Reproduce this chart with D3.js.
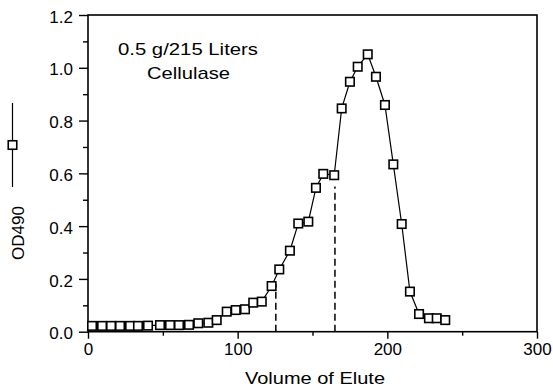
<!DOCTYPE html>
<html><head><meta charset="utf-8">
<script src="https://cdn.jsdelivr.net/npm/d3@7"></script>
<style>
html,body{margin:0;padding:0;background:#fff;}
svg text{font-family:"Liberation Sans",Arial,sans-serif;fill:#000;}
</style></head>
<body>
<svg id="chart" width="553" height="387"></svg>
<script>
// Data
const volume = [2.7, 9.4, 15.4, 21.4, 28.1, 33.4, 40.1, 48.1, 54.8, 60.8,
  67.5, 73.7, 80.4, 86.0, 92.7, 98.7, 104.9, 110.4, 116.1, 122.7,
  127.8, 134.9, 140.5, 147.2, 152.3, 157.2, 164.5, 169.5, 175.0, 180.2,
  186.9, 192.4, 198.4, 204.0, 209.6, 215.1, 221.2, 227.8, 233.0, 238.7];
const od490 = [0.022, 0.022, 0.022, 0.022, 0.022, 0.022, 0.023, 0.025, 0.025, 0.025,
  0.026, 0.032, 0.034, 0.044, 0.076, 0.082, 0.085, 0.110, 0.114, 0.173,
  0.236, 0.307, 0.410, 0.417, 0.545, 0.598, 0.593, 0.846, 0.947, 1.004,
  1.051, 0.966, 0.859, 0.634, 0.408, 0.152, 0.067, 0.051, 0.051, 0.044];
const dashX = [125.5, 165.0];
const dashTop = [0.18, 0.55];
const xMajor = [0, 100, 200, 300];
const xMinor = [50, 150, 250];
const yMajor = [0, 0.2, 0.4, 0.6, 0.8, 1.0, 1.2];
const yMinor = [0.1, 0.3, 0.5, 0.7, 0.9, 1.1];
const annot = ["0.5 g/215 Liters", "Cellulase"];
const xTitle = "Volume of Elute";
const yTitle = "OD490";

const svg = d3.select("#chart");
const L = 88, R = 537, T = 15, B = 331.7;
const x = d3.scaleLinear().domain([0, 300]).range([L, R]);
const y = d3.scaleLinear().domain([0, 1.2]).range([B, T]);

// frame
svg.append("rect").attr("x", L).attr("y", T).attr("width", R - L).attr("height", B - T)
  .attr("fill", "none").attr("stroke", "#000").attr("stroke-width", 1.6);

function styleAxis(g) {
  g.select(".domain").remove();
  g.selectAll(".tick line").attr("stroke", "#000").attr("stroke-width", 1.4);
  g.selectAll("text").attr("font-size", 17).attr("font-family", "'Liberation Sans',Arial,sans-serif").attr("fill", "#000");
}

// x axis
svg.append("g").attr("transform", `translate(0,${B})`)
  .call(d3.axisBottom(x).tickValues(xMajor).tickSize(7).tickPadding(4).tickFormat(d3.format("d")))
  .call(styleAxis);
svg.append("g").attr("transform", `translate(0,${B})`)
  .call(d3.axisBottom(x).tickValues(xMinor).tickSize(4).tickFormat(""))
  .call(styleAxis);

// y axis
svg.append("g").attr("transform", `translate(${L},0)`)
  .call(d3.axisLeft(y).tickValues(yMajor).tickSize(9).tickPadding(6).tickFormat(d3.format(".1f")))
  .call(styleAxis)
  .selectAll("text").attr("dy", "0.42em");
svg.append("g").attr("transform", `translate(${L},0)`)
  .call(d3.axisLeft(y).tickValues(yMinor).tickSize(5).tickFormat(""))
  .call(styleAxis);

// dashed lines
svg.append("g").selectAll("line").data(dashX).join("line")
  .attr("x1", d => x(d)).attr("x2", d => x(d))
  .attr("y1", y(0)).attr("y2", (d, i) => y(dashTop[i]))
  .attr("stroke", "#000").attr("stroke-width", 1.5).attr("stroke-dasharray", "7,4");

// data line
const pts = volume.map((v, i) => [v, od490[i]]);
svg.append("path").datum(pts)
  .attr("d", d3.line().x(d => x(d[0])).y(d => y(d[1])))
  .attr("fill", "none").attr("stroke", "#000").attr("stroke-width", 1.2);

// markers
const S = 8.5;
svg.append("g").selectAll("rect").data(pts).join("rect")
  .attr("x", d => x(d[0]) - S / 2).attr("y", d => y(d[1]) - S / 2)
  .attr("width", S).attr("height", S)
  .attr("fill", "#fff").attr("stroke", "#000").attr("stroke-width", 1.6);

// annotation
svg.append("text").attr("x", 118).attr("y", 55).attr("font-size", 17)
  .attr("textLength", 140).attr("lengthAdjust", "spacingAndGlyphs").text(annot[0]);
svg.append("text").attr("x", 147).attr("y", 79).attr("font-size", 17)
  .attr("textLength", 83).attr("lengthAdjust", "spacingAndGlyphs").text(annot[1]);

// x title
svg.append("text").attr("x", 315).attr("y", 384).attr("font-size", 17)
  .attr("text-anchor", "middle").attr("textLength", 140).attr("lengthAdjust", "spacingAndGlyphs").text(xTitle);

// y title
svg.append("text").attr("transform", "translate(24,233) rotate(-90)").attr("font-size", 17)
  .attr("text-anchor", "middle").text(yTitle);

// legend symbol
svg.append("line").attr("x1", 12.5).attr("x2", 12.5).attr("y1", 103).attr("y2", 187)
  .attr("stroke", "#000").attr("stroke-width", 1.2);
svg.append("rect").attr("x", 12.5 - 4.25).attr("y", 145 - 4.25).attr("width", 8.5).attr("height", 8.5)
  .attr("fill", "#fff").attr("stroke", "#000").attr("stroke-width", 1.6);
</script>
</body></html>
